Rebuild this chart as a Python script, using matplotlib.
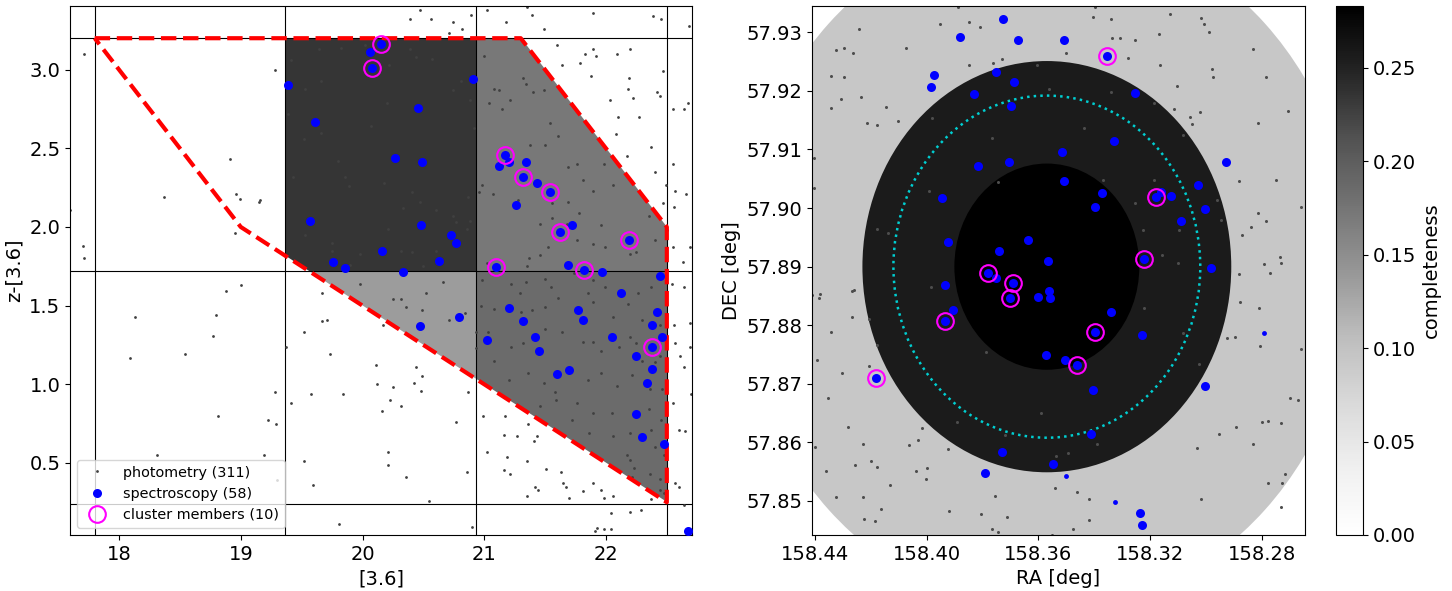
import numpy as np
import matplotlib
matplotlib.use("Agg")
from matplotlib import pyplot as plt
from matplotlib.patches import Ellipse, Polygon
from matplotlib.ticker import MultipleLocator, FormatStrFormatter
from matplotlib.colors import Normalize
from matplotlib.cm import ScalarMappable

plt.rcParams["font.size"] = 14
plt.rcParams["xtick.labelsize"] = 14
plt.rcParams["ytick.labelsize"] = 14
plt.rcParams["axes.labelsize"] = 14

# colour-magnitude selection grid and its completeness
mag_edges = [17.8, 19.367, 20.933, 22.5]
col_edges = [0.24, 1.72, 3.2]
cmd_completeness = [
    [0.0, 0.137, 0.185],  # lower colour bin
    [0.0, 0.235, 0.172],  # upper colour bin
]
selection_mag = [17.8, 21.3, 22.5, 22.5, 19.0, 17.8]
selection_col = [3.2, 3.2, 2.0, 0.25, 2.0, 3.2]

# radial completeness on the sky
cluster_ra, cluster_dec = 158.357, 57.890
ring_radii = [0.0587, 0.0351, 0.0176]   # deg, outer to inner
ring_completeness = [0.093, 0.257, 0.283]
r500_radius = 0.0292

# photometric sources: ([3.6], z-[3.6])
phot_cmd = [
    (20.47, 3.38), (20.39, 3.32), (20.56, 3.32), (20.74, 3.30), (20.82, 3.26), (20.89, 3.35), (21.02, 3.38),
    (21.18, 3.30), (21.35, 3.40), (21.39, 3.35), (21.49, 3.26), (21.89, 3.36), (22.39, 3.34), (22.45, 3.32),
    (22.68, 3.28), (20.71, 3.23),
    (19.41, 3.06), (19.64, 3.13), (19.82, 3.14), (20.02, 3.16), (20.22, 3.03), (20.39, 3.13), (20.44, 3.08),
    (20.57, 3.07), (19.66, 2.93), (19.53, 2.88), (20.20, 2.79), (20.81, 2.93), (20.88, 2.81), (20.74, 2.87),
    (19.39, 2.72), (20.07, 2.64), (19.66, 2.60), (19.52, 2.56), (20.92, 2.63), (19.80, 2.42), (19.43, 2.32),
    (19.86, 2.32), (20.18, 2.28), (19.89, 2.26), (20.41, 2.22), (20.47, 2.16), (20.33, 2.12), (20.60, 2.11),
    (20.87, 2.19), (20.74, 2.07), (20.77, 2.03), (20.88, 2.04), (19.53, 1.95), (19.75, 1.90), (19.75, 1.85),
    (19.98, 1.83), (20.21, 1.99), (20.32, 1.85), (20.41, 1.84), (20.60, 1.85), (20.86, 1.99), (20.65, 1.78),
    (20.50, 1.75), (19.90, 1.76),
    (21.00, 3.09), (21.08, 2.88), (21.12, 2.87), (21.04, 2.79), (21.15, 2.75), (21.21, 2.81), (21.32, 2.95),
    (21.34, 2.91), (21.49, 2.87), (21.60, 3.16), (21.54, 2.66), (21.40, 2.86), (21.79, 3.04), (21.83, 3.10),
    (21.89, 3.13), (21.92, 3.09), (21.64, 3.03), (21.88, 2.96), (22.03, 2.81), (22.10, 2.70), (22.19, 2.95),
    (22.18, 2.88), (22.27, 2.70), (22.09, 3.10), (22.20, 3.13), (21.38, 2.52), (21.50, 2.52), (21.61, 2.58),
    (21.69, 2.38), (21.76, 2.40), (21.81, 2.30), (21.98, 2.40), (22.08, 2.59), (22.17, 2.45), (20.98, 2.27),
    (20.96, 2.22), (21.07, 2.21), (21.28, 2.17), (21.56, 2.15), (21.69, 2.16), (21.78, 2.09), (21.89, 2.23),
    (22.06, 2.27), (21.68, 2.02), (21.56, 2.06), (21.46, 2.02), (21.96, 2.01), (21.76, 1.92), (21.89, 1.89),
    (21.99, 1.87), (22.20, 1.83), (22.25, 1.84), (22.40, 1.92), (22.35, 2.07), (21.37, 1.80), (21.46, 1.82),
    (21.52, 1.87), (21.35, 1.75), (21.02, 1.77), (22.47, 2.15),
    (22.55, 2.75), (22.64, 2.75), (22.67, 2.79), (22.37, 2.51), (22.55, 2.40), (22.40, 2.35), (22.49, 2.27),
    (22.57, 2.23), (22.66, 2.21), (22.56, 2.13), (22.55, 1.87), (22.69, 1.87), (22.63, 1.78), (22.50, 1.98),
    (22.44, 2.83), (22.42, 2.86), (22.22, 2.82), (22.47, 2.99),
    (17.71, 3.10), (19.28, 3.00), (18.91, 2.43), (18.37, 2.19), (18.96, 2.21), (18.99, 2.18), (19.15, 2.16),
    (19.16, 2.17), (17.60, 2.11), (18.95, 1.96), (17.70, 1.88), (17.71, 1.80),
    (19.00, 1.63), (18.88, 1.59), (18.13, 1.43), (18.80, 1.44), (18.54, 1.19), (18.09, 1.17), (18.77, 1.31),
    (19.28, 0.95), (18.81, 0.80), (19.22, 0.77), (19.29, 0.75), (19.41, 0.88), (18.31, 0.55), (19.19, 0.55),
    (19.30, 0.39), (19.81, 0.11), (20.90, 0.095), (19.37, 1.24),
    (19.52, 1.33), (19.67, 1.40), (19.71, 1.41), (19.73, 1.19), (19.67, 1.58), (19.98, 1.64), (20.17, 1.38),
    (20.25, 1.54), (20.32, 1.54), (20.36, 1.49), (20.49, 1.47), (20.52, 1.58), (20.66, 1.65), (20.71, 1.41),
    (20.84, 1.45), (20.44, 1.11), (20.49, 1.05), (20.42, 1.01), (20.48, 0.96), (20.11, 1.12), (20.12, 1.00),
    (20.25, 0.98), (19.84, 0.94), (19.58, 0.94), (20.23, 0.90), (20.32, 0.86), (20.16, 0.83), (20.87, 0.95),
    (20.77, 0.76), (20.93, 1.33), (20.93, 1.23),
    (19.52, 0.51), (19.59, 0.36), (20.21, 0.57), (20.21, 0.49), (20.36, 0.41), (20.55, 0.26), (20.86, 0.44),
    (21.02, 0.57), (21.19, 0.54), (20.99, 0.80), (21.17, 0.80), (21.16, 0.68), (21.16, 0.455), (21.21, 0.43),
    (21.27, 0.67), (21.35, 0.51), (21.36, 0.75), (21.41, 0.64), (21.43, 0.67), (21.51, 0.46), (21.42, 0.35),
    (21.44, 0.33), (21.35, 0.29), (21.63, 0.44), (21.65, 0.37), (21.67, 0.35), (21.70, 0.28), (21.81, 0.32),
    (21.89, 0.37), (21.96, 0.33), (21.98, 0.28), (22.06, 0.29), (22.04, 0.18), (22.20, 0.19), (22.29, 0.20),
    (21.93, 0.085), (21.98, 0.08), (22.04, 0.08), (21.91, 0.07),
    (20.98, 1.66), (21.22, 1.64), (21.34, 1.65), (21.50, 1.67), (21.55, 1.62), (21.74, 1.71), (21.89, 1.66),
    (21.99, 1.62), (20.97, 1.50), (21.08, 1.48), (21.29, 1.58), (21.30, 1.46), (21.39, 1.47), (21.50, 1.49),
    (21.61, 1.55), (21.85, 1.58), (21.89, 1.52), (22.06, 1.43), (22.18, 1.51), (22.26, 1.58), (22.37, 1.62),
    (22.30, 1.41), (22.44, 1.38), (21.03, 1.33), (21.08, 1.15), (21.22, 1.24), (21.32, 1.26), (21.50, 1.35),
    (21.64, 1.33), (21.81, 1.27), (21.89, 1.27), (21.96, 1.21), (22.11, 1.24), (22.20, 1.30), (22.25, 1.26),
    (22.30, 1.15), (22.40, 1.14), (22.44, 1.18), (21.20, 1.03), (21.36, 1.07), (21.49, 1.01), (21.58, 0.95),
    (21.85, 1.03), (21.96, 1.07), (22.09, 0.99), (22.21, 1.06), (22.36, 0.97), (22.46, 0.97), (21.76, 0.88),
    (21.89, 0.82), (22.05, 0.82), (21.46, 0.86), (21.59, 0.90), (21.72, 0.77), (21.86, 0.69), (22.06, 0.67),
    (22.20, 0.69), (22.20, 0.52), (22.23, 0.47), (22.21, 0.41), (22.36, 0.43), (22.44, 0.40), (22.40, 0.60),
    (22.35, 0.84), (22.45, 0.77), (22.37, 0.71), (22.48, 0.55), (22.44, 0.33), (22.17, 0.55), (22.37, 0.27),
    (22.48, 0.31),
    (22.54, 1.64), (22.64, 1.62), (22.69, 1.39), (22.69, 1.24), (22.57, 1.26), (22.64, 1.11), (22.70, 0.94),
    (22.55, 0.88), (22.60, 0.71), (22.65, 0.70), (22.57, 0.37), (22.64, 0.23), (22.61, 1.18), (22.56, 1.38),
    (22.60, 0.35),
]

# spectroscopic sources: ([3.6], z-[3.6])
spec_cmd = [
    (20.155, 3.164), (20.06, 3.11), (20.08, 3.01), (19.39, 2.90), (20.91, 2.94), (20.46, 2.756), (19.61, 2.67),
    (20.27, 2.44), (20.49, 2.41), (21.17, 2.456), (21.12, 2.39), (21.20, 2.41), (21.34, 2.41), (21.32, 2.32),
    (21.43, 2.28), (21.54, 2.225), (21.26, 2.14), (19.57, 2.04), (20.48, 2.01), (21.72, 2.01), (21.62, 1.965),
    (22.19, 1.92), (20.73, 1.95), (20.77, 1.90), (20.16, 1.85), (19.76, 1.78), (19.86, 1.74), (20.63, 1.786),
    (20.33, 1.716), (21.10, 1.744), (21.69, 1.758), (21.82, 1.727), (21.97, 1.716), (22.44, 1.69), (22.12, 1.58),
    (21.20, 1.487), (21.32, 1.404), (20.79, 1.43), (20.47, 1.37), (21.77, 1.47), (21.81, 1.406), (22.42, 1.46),
    (22.38, 1.377), (21.02, 1.28), (21.42, 1.30), (21.45, 1.214), (22.05, 1.30), (22.46, 1.30), (22.38, 1.24),
    (22.25, 1.18), (21.60, 1.065), (21.70, 1.09), (22.38, 1.095), (22.34, 1.008), (22.25, 0.81), (22.30, 0.663),
    (22.48, 0.623), (22.67, 0.07),
]
member_cmd = [
    (20.155, 3.164), (20.08, 3.01), (21.17, 2.456), (21.32, 2.32), (21.54, 2.225),
    (21.62, 1.965), (22.19, 1.92), (21.10, 1.744), (21.82, 1.727), (22.38, 1.24),
]

# photometric sources on the sky: (RA, DEC)
phot_sky = [
    (158.4244, 57.9305), (158.3952, 57.9315), (158.3849, 57.9318), (158.3810, 57.9309), (158.3729, 57.9254),
    (158.3888, 57.9344), (158.4073, 57.9273), (158.4326, 57.9269), (158.4298, 57.9273), (158.4265, 57.9265),
    (158.4295, 57.9223), (158.4343, 57.9226), (158.4308, 57.9186), (158.4343, 57.9170), (158.4237, 57.9190),
    (158.4147, 57.9172), (158.4215, 57.9145), (158.4178, 57.9141), (158.4103, 57.9148), (158.4403, 57.9085),
    (158.4417, 57.9053), (158.4403, 57.9035), (158.4427, 57.8959), (158.3849, 57.9244), (158.3763, 57.9247),
    (158.3607, 57.9245), (158.3500, 57.9264), (158.3404, 57.9327), (158.3397, 57.9343), (158.3340, 57.9322),
    (158.3336, 57.9291), (158.3308, 57.9291), (158.3281, 57.9257), (158.3256, 57.9287), (158.3168, 57.9297),
    (158.3164, 57.9244), (158.3130, 57.9331), (158.3105, 57.9209), (158.3113, 57.9169), (158.3059, 57.9155),
    (158.3052, 57.9144), (158.3023, 57.9164), (158.3018, 57.9324), (158.3007, 57.9314), (158.2989, 57.9300),
    (158.2979, 57.9237), (158.2976, 57.9223), (158.2831, 57.9271), (158.2787, 57.9223), (158.2705, 57.9165),
    (158.2815, 57.9145), (158.2881, 57.9047), (158.2749, 57.9048), (158.2661, 57.9002), (158.2815, 57.8992),
    (158.2785, 57.8978), (158.2838, 57.8967), (158.2870, 57.8954), (158.2735, 57.8917), (158.2733, 57.8906),
    (158.2794, 57.8905), (158.2771, 57.8890), (158.2883, 57.8887), (158.2945, 57.8979), (158.3562, 57.9204),
    (158.3438, 57.9136), (158.3185, 57.9179), (158.3082, 57.9124), (158.3157, 57.8920), (158.3101, 57.8907),
    (158.2959, 57.9014), (158.3253, 57.9008), (158.3767, 57.9119), (158.3993, 57.9030), (158.3986, 57.8866),
    (158.4178, 57.8964), (158.4137, 57.8957), (158.4261, 57.8860), (158.4381, 57.8853), (158.3980, 57.9153),
    (158.3744, 57.9045), (158.3370, 57.9048), (158.3342, 57.9199), (158.3188, 57.9048), (158.3226, 57.8963),
    (158.3096, 57.8963),
    (158.4411, 57.8851), (158.4384, 57.8847), (158.4267, 57.8858), (158.4267, 57.8814), (158.4206, 57.8811),
    (158.4343, 57.8788), (158.4393, 57.8741), (158.4302, 57.8718), (158.4206, 57.8730), (158.4352, 57.8676),
    (158.4178, 57.8767), (158.4281, 57.8626), (158.4401, 57.8593), (158.4229, 57.8598), (158.4201, 57.8568),
    (158.4177, 57.8558), (158.4258, 57.8561), (158.4359, 57.8552), (158.4324, 57.8507), (158.4229, 57.8506),
    (158.4223, 57.8470), (158.4165, 57.8486), (158.4184, 57.8465), (158.4133, 57.8527), (158.4065, 57.8596),
    (158.4030, 57.8604), (158.4037, 57.8552), (158.3999, 57.8556), (158.4002, 57.8537), (158.4017, 57.8624),
    (158.3925, 57.8588), (158.3921, 57.8483), (158.3806, 57.8477), (158.3754, 57.8509), (158.3713, 57.8473),
    (158.3767, 57.8453), (158.3744, 57.8447), (158.3592, 57.8650), (158.3537, 57.8577), (158.3496, 57.8582),
    (158.3541, 57.8523), (158.3462, 57.8515), (158.3420, 57.8503), (158.3420, 57.8467), (158.3477, 57.8453),
    (158.3551, 57.8442), (158.3390, 57.8597), (158.3222, 57.8830), (158.3082, 57.8787), (158.3027, 57.8733),
    (158.3031, 57.8591), (158.2952, 57.8615), (158.2924, 57.8778), (158.2897, 57.8780), (158.2879, 57.8840),
    (158.2812, 57.8830), (158.2808, 57.8764), (158.2894, 57.8627), (158.2833, 57.8597), (158.2798, 57.8635),
    (158.2778, 57.8636), (158.2733, 57.8633), (158.2698, 57.8676), (158.2671, 57.8672), (158.2660, 57.8759),
    (158.2778, 57.8531), (158.2728, 57.8530), (158.2719, 57.8546), (158.2731, 57.8489), (158.3018, 57.8503),
    (158.3719, 57.8613), (158.3891, 57.8634), (158.3788, 57.8755),
]

# spectroscopic sources on the sky: (RA, DEC)
spec_sky = [
    (158.3727, 57.9322), (158.3881, 57.9292), (158.3675, 57.9287), (158.3507, 57.9287), (158.3353, 57.9260),
    (158.3974, 57.9228), (158.3984, 57.9206), (158.3753, 57.9232), (158.3688, 57.9215), (158.3832, 57.9195),
    (158.3699, 57.9175), (158.3255, 57.9196), (158.3331, 57.9114), (158.2930, 57.9079), (158.3516, 57.9096),
    (158.3704, 57.9079), (158.3815, 57.9071), (158.3507, 57.9046), (158.3374, 57.9026), (158.3396, 57.9002),
    (158.3178, 57.9019), (158.3163, 57.9028), (158.3124, 57.9020), (158.3029, 57.9040), (158.3005, 57.8998),
    (158.3089, 57.8978), (158.3945, 57.9018), (158.3925, 57.8942), (158.3638, 57.8946), (158.3743, 57.8926),
    (158.3566, 57.8909), (158.3781, 57.8890), (158.3753, 57.8880), (158.3222, 57.8913), (158.2982, 57.8898),
    (158.3690, 57.8872), (158.3933, 57.8869), (158.3701, 57.8847), (158.3600, 57.8848), (158.3562, 57.8858),
    (158.3559, 57.8847), (158.3906, 57.8826), (158.3933, 57.8807), (158.3340, 57.8823), (158.3396, 57.8789),
    (158.3229, 57.8783), (158.3574, 57.8750), (158.3504, 57.8740), (158.3462, 57.8732), (158.4182, 57.8710),
    (158.3403, 57.8690), (158.3002, 57.8696), (158.3412, 57.8615), (158.3730, 57.8584), (158.3548, 57.8564),
    (158.3791, 57.8547), (158.3238, 57.8480), (158.3229, 57.8459),
]
spec_sky_faint = [(158.2791, 57.8786), (158.3501, 57.8542), (158.3327, 57.8498)]
member_sky = [
    (158.3353, 57.9260), (158.3178, 57.9019), (158.3781, 57.8890), (158.3222, 57.8913), (158.3690, 57.8872),
    (158.3701, 57.8847), (158.3933, 57.8807), (158.3396, 57.8789), (158.3462, 57.8732), (158.4182, 57.8710),
]

cmap = plt.get_cmap("Greys")
norm = Normalize(vmin=0.0, vmax=max(ring_completeness))

fig = plt.figure(figsize=(14.52, 5.91), dpi=100)
ax1 = fig.add_axes([0.0482, 0.0948, 0.4284, 0.8951])
ax2 = fig.add_axes([0.5592, 0.0948, 0.3395, 0.8951])
cax = fig.add_axes([0.9201, 0.0948, 0.0186, 0.8951])

# ---- left: colour-magnitude diagram
mesh = ax1.pcolormesh(mag_edges, col_edges, np.array(cmd_completeness), cmap=cmap, norm=norm, zorder=0)
clip = Polygon(list(zip(selection_mag, selection_col)), closed=True, transform=ax1.transData)
mesh.set_clip_path(clip)
for edge in mag_edges:
    ax1.axvline(edge, color="k", lw=0.8, zorder=1)
for edge in col_edges:
    ax1.axhline(edge, color="k", lw=0.8, zorder=1)

pm, pc = zip(*phot_cmd)
sm, sc = zip(*spec_cmd)
mm, mc = zip(*member_cmd)
ax1.plot(pm, pc, "o", color="0.25", ms=2, mew=0, ls="none", zorder=2, label="photometry (311)")
ax1.plot(selection_mag, selection_col, "--", color="red", lw=3, zorder=3)
ax1.plot(sm, sc, "o", color="blue", ms=6.5, mew=0, ls="none", zorder=4, label="spectroscopy (58)")
ax1.plot(mm, mc, "o", mfc="none", mec="magenta", ms=12, mew=1.5, ls="none", zorder=5,
         label="cluster members (10)")
ax1.set_xlim(17.597, 22.707)
ax1.set_ylim(0.042, 3.405)
ax1.set_xlabel("[3.6]")
ax1.set_ylabel("z-[3.6]")
ax1.legend(loc="lower left", fontsize=10.4)

# ---- right: sky positions
cos_dec = np.cos(np.radians(cluster_dec))
for radius, value in zip(ring_radii, ring_completeness):
    ax2.add_patch(Ellipse((cluster_ra, cluster_dec), 2 * radius / cos_dec, 2 * radius,
                          facecolor=cmap(norm(value)), edgecolor="none", zorder=0))
ax2.add_patch(Ellipse((cluster_ra, cluster_dec), 2 * r500_radius / cos_dec, 2 * r500_radius,
                      facecolor="none", edgecolor="darkturquoise", ls=":", lw=1.8, zorder=1))

pr, pd_ = zip(*phot_sky)
sr, sd = zip(*spec_sky)
fr, fd = zip(*spec_sky_faint)
mr, md = zip(*member_sky)
ax2.plot(pr, pd_, "o", color="0.3", ms=2.2, mew=0, ls="none", zorder=2)
ax2.plot(sr, sd, "o", color="blue", ms=6.5, mew=0, ls="none", zorder=4)
ax2.plot(fr, fd, "o", color="blue", ms=3.5, mew=0, ls="none", zorder=4)
ax2.plot(mr, md, "o", mfc="none", mec="magenta", ms=12, mew=1.5, ls="none", zorder=5)
ax2.set_xlim(158.4411, 158.2646)
ax2.set_ylim(57.8442, 57.9345)
ax2.xaxis.set_major_locator(MultipleLocator(0.04))
ax2.yaxis.set_major_locator(MultipleLocator(0.01))
ax2.xaxis.set_major_formatter(FormatStrFormatter("%.2f"))
ax2.yaxis.set_major_formatter(FormatStrFormatter("%.2f"))
ax2.set_xlabel("RA [deg]")
ax2.set_ylabel("DEC [deg]")

cbar = fig.colorbar(ScalarMappable(norm=norm, cmap=cmap), cax=cax)
cbar.set_ticks([0.0, 0.05, 0.10, 0.15, 0.20, 0.25])
cbar.ax.yaxis.set_major_formatter(FormatStrFormatter("%.2f"))
cbar.set_label("completeness")

fig.savefig("out.png", dpi=100)
